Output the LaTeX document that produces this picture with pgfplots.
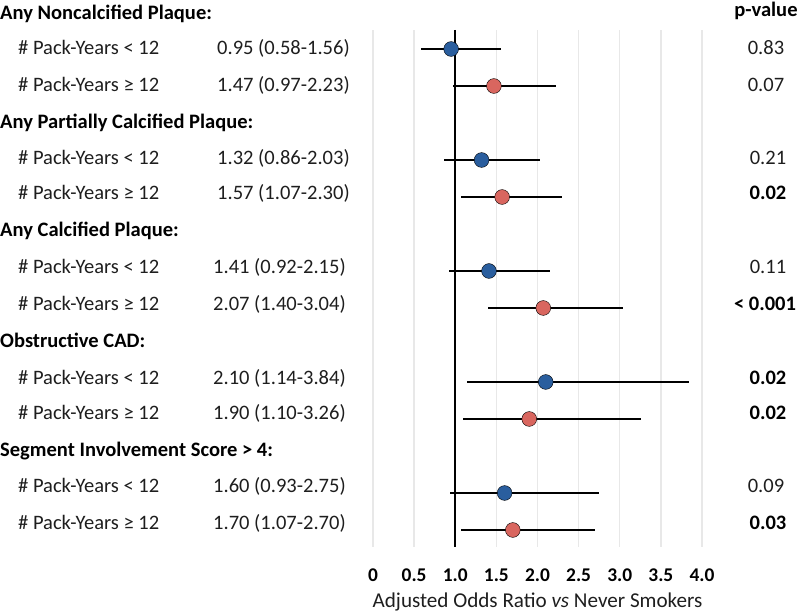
\documentclass[border=0pt]{standalone}
\usepackage{pgfplots}
\pgfplotsset{compat=1.18}
\usepackage{pgfplotstable}
\usepackage{fontspec}
\setmainfont{Carlito}
\definecolor{dotblue}{HTML}{2A5E9E}
\definecolor{dotred}{HTML}{D9665F}
\definecolor{txt}{HTML}{1E1E1E}
\definecolor{gridc}{HTML}{E8E8E8}
\newcommand\tf{\fontsize{20.6}{24}\selectfont}
\newcommand\tkf{\fontsize{19.5}{23}\selectfont}
\newcommand\lf{\fontsize{21.2}{24}\selectfont}

% k = row slot, or = odds ratio, lo/hi = 95% CI
\pgfplotstableread{
k or lo hi
1 0.95 0.58 1.56
4 1.32 0.86 2.03
7 1.41 0.92 2.15
10 2.10 1.14 3.84
13 1.60 0.93 2.75
}\lowtab
\pgfplotstableread{
k or lo hi
2 1.47 0.97 2.23
5 1.57 1.07 2.30
8 2.07 1.40 3.04
11 1.90 1.10 3.26
14 1.70 1.07 2.70
}\hightab

\begin{document}
\begin{tikzpicture}[x=1bp,y=1bp]
\useasboundingbox (0,0) rectangle (800,612);
\begin{axis}[
  at={(373bp,65bp)}, anchor=south west,
  width=329bp, height=517bp, scale only axis,
  xmin=0, xmax=4, ymin=0.486, ymax=14.46, y dir=reverse,
  hide y axis,
  axis line style={draw=none},
  tick style={draw=none},
  xtick={0,0.5,1,1.5,2,2.5,3,3.5,4},
  xticklabels={0,0.5,1.0,1.5,2.0,2.5,3.0,3.5,4.0},
  xmajorgrids, grid style={gridc, line width=1.3bp},
  xticklabel style={font=\tkf\bfseries, text=black, anchor=base, yshift=-34bp},
  xlabel={Adjusted Odds Ratio \textit{vs} Never Smokers},
  xlabel style={font=\lf, text=txt, at={(axis description cs:0.5,0)}, anchor=base, yshift=-60.5bp},
  clip=false,
]
\addplot[black, line width=2.4bp, forget plot] coordinates {(1,0.486) (1,14.46)};
\addplot[draw=none, mark=none, forget plot,
  error bars/.cd, x dir=both, x explicit, error mark=none,
  error bar style={draw=black, line width=2.7bp}]
  table[x=or, y=k, x error plus expr=\thisrow{hi}-\thisrow{or}, x error minus expr=\thisrow{or}-\thisrow{lo}] {\lowtab};
\addplot[draw=none, mark=none, forget plot,
  error bars/.cd, x dir=both, x explicit, error mark=none,
  error bar style={draw=black, line width=2.7bp}]
  table[x=or, y=k, x error plus expr=\thisrow{hi}-\thisrow{or}, x error minus expr=\thisrow{or}-\thisrow{lo}] {\hightab};
\addplot[only marks, mark=*, mark size=7.4bp, mark options={draw=none, fill=dotblue}] table[x=or, y=k] {\lowtab};
\addplot[only marks, mark=*, mark size=7.4bp, mark options={draw=none, fill=dotred}] table[x=or, y=k] {\hightab};
\end{axis}

% headers
\begin{scope}[every node/.style={anchor=base west, inner sep=0pt, font=\tf\bfseries, text=black}]
\node at (0,{605-13}) {Any Noncalcified Plaque:};
\node at (0,{605-122}) {Any Partially Calcified Plaque:};
\node at (0,{605-230}) {Any Calcified Plaque:};
\node at (0,{605-341}) {Obstructive CAD:};
\node at (0,{605-450}) {Segment Involvement Score > 4:};
\end{scope}
% sub rows
\begin{scope}[every node/.style={anchor=base west, inner sep=0pt, font=\tf, text=txt}]
\node at (18,{605-48}) {\# Pack-Years < 12};
\node at (18,{605-85}) {\# Pack-Years ≥ 12};
\node at (18,{605-158}) {\# Pack-Years < 12};
\node at (18,{605-193}) {\# Pack-Years ≥ 12};
\node at (18,{605-267}) {\# Pack-Years < 12};
\node at (18,{605-304}) {\# Pack-Years ≥ 12};
\node at (18,{605-378}) {\# Pack-Years < 12};
\node at (18,{605-413}) {\# Pack-Years ≥ 12};
\node at (18,{605-486}) {\# Pack-Years < 12};
\node at (18,{605-523}) {\# Pack-Years ≥ 12};
\node at (217,{605-48}) {0.95 (0.58-1.56)};
\node at (217,{605-85}) {1.47 (0.97-2.23)};
\node at (217,{605-158}) {1.32 (0.86-2.03)};
\node at (217,{605-193}) {1.57 (1.07-2.30)};
\node at (213,{605-267}) {1.41 (0.92-2.15)};
\node at (213,{605-304}) {2.07 (1.40-3.04)};
\node at (213,{605-378}) {2.10 (1.14-3.84)};
\node at (213,{605-413}) {1.90 (1.10-3.26)};
\node at (213,{605-486}) {1.60 (0.93-2.75)};
\node at (213,{605-523}) {1.70 (1.07-2.70)};
\end{scope}
% p-values
\begin{scope}[every node/.style={anchor=base, inner sep=0pt, font=\tf, text=txt}]
\node[font=\tf\bfseries, text=black] at (766,{605-10}) {p-value};
\node at (766,{605-48}) {0.83};
\node at (766,{605-85}) {0.07};
\node at (768,{605-158}) {0.21};
\node[font=\tf\bfseries, text=black] at (768,{605-193}) {0.02};
\node at (768,{605-267}) {0.11};
\node[font=\tf\bfseries, text=black] at (765,{605-304}) {< 0.001};
\node[font=\tf\bfseries, text=black] at (768,{605-378}) {0.02};
\node[font=\tf\bfseries, text=black] at (768,{605-413}) {0.02};
\node at (766,{605-486}) {0.09};
\node[font=\tf\bfseries, text=black] at (768,{605-523}) {0.03};
\end{scope}
\end{tikzpicture}
\end{document}
